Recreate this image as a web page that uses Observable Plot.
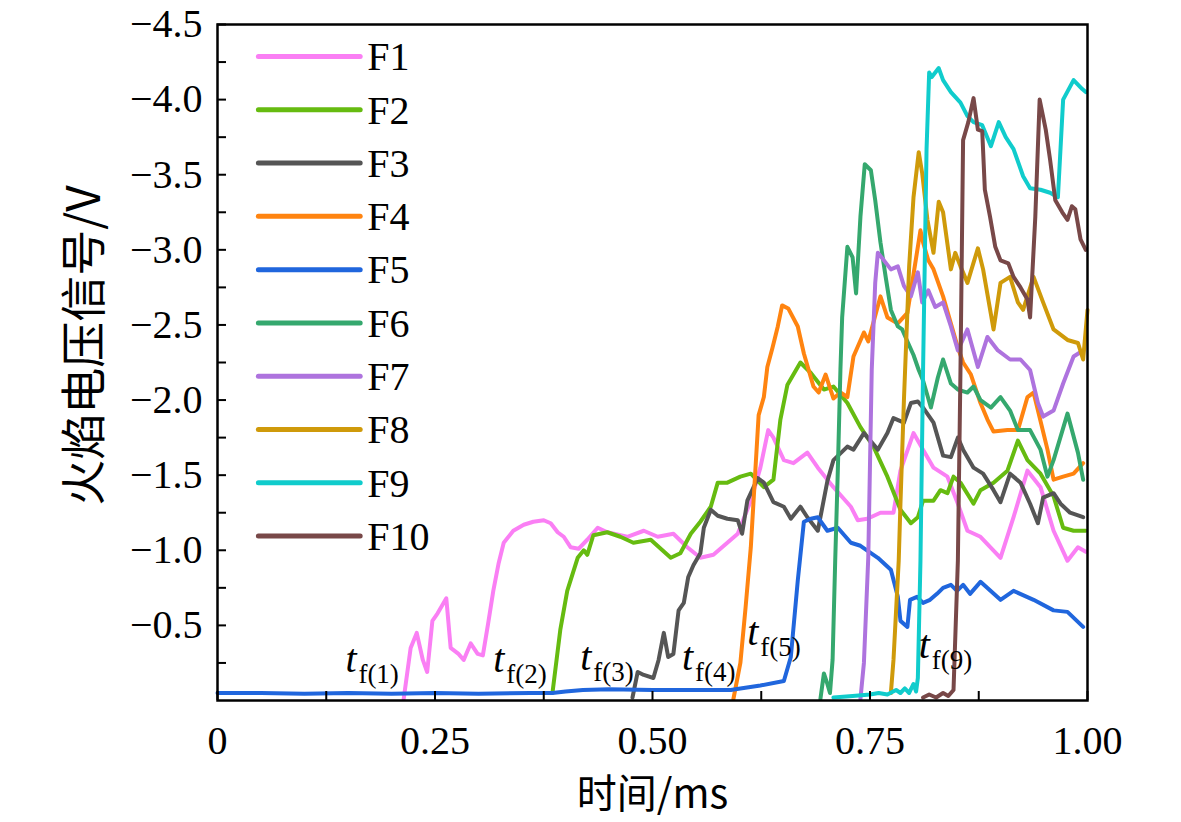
<!DOCTYPE html>
<html>
<head>
<meta charset="utf-8">
<script src="https://cdn.jsdelivr.net/npm/d3@7"></script>
<script src="https://cdn.jsdelivr.net/npm/@observablehq/plot@0.6"></script>
<style>
  html, body { margin: 0; padding: 0; background: #fff; }
  #chart svg { display: block; }
</style>
</head>
<body>
<div id="chart"></div>
<script>
// ---------- data (time in ms, flame voltage in V) ----------
const seriesNames = ["F1","F2","F3","F4","F5","F6","F7","F8","F9","F10"];
const seriesColors = ["#fa7ff4","#66bb10","#555555","#ff8410","#2066dd","#35a86e","#ae73de","#cf9a0a","#10cccc","#784848"];

const F1 = [[0.214,-0.01],[0.222,-0.35],[0.229,-0.45],[0.236,-0.27],[0.241,-0.19],[0.247,-0.53],[0.253,-0.58],[0.263,-0.68],[0.268,-0.35],[0.277,-0.31],[0.283,-0.27],[0.291,-0.38],[0.299,-0.31],[0.305,-0.30],[0.311,-0.51],[0.317,-0.73],[0.323,-0.91],[0.329,-1.05],[0.340,-1.13],[0.352,-1.17],[0.363,-1.19],[0.375,-1.20],[0.383,-1.18],[0.391,-1.12],[0.398,-1.09],[0.406,-1.02],[0.415,-1.01],[0.425,-1.07],[0.437,-1.15],[0.448,-1.12],[0.471,-1.09],[0.490,-1.13],[0.506,-1.09],[0.524,-1.11],[0.540,-1.02],[0.555,-0.95],[0.570,-0.97],[0.586,-1.05],[0.598,-1.11],[0.613,-1.33],[0.624,-1.55],[0.633,-1.80],[0.639,-1.75],[0.651,-1.60],[0.662,-1.58],[0.678,-1.65],[0.690,-1.55],[0.708,-1.42],[0.728,-1.29],[0.736,-1.20],[0.747,-1.21],[0.762,-1.25],[0.777,-1.25],[0.785,-1.53],[0.800,-1.78],[0.811,-1.67],[0.823,-1.55],[0.839,-1.49],[0.851,-1.31],[0.862,-1.13],[0.877,-1.09],[0.900,-0.95],[0.915,-1.22],[0.931,-1.53],[0.946,-1.42],[0.961,-1.13],[0.977,-0.93],[0.989,-1.02],[0.998,-0.99]];

const F2 = [[0.385,-0.05],[0.394,-0.47],[0.402,-0.73],[0.414,-0.95],[0.421,-1.00],[0.425,-0.97],[0.432,-1.10],[0.440,-1.11],[0.448,-1.12],[0.463,-1.09],[0.478,-1.05],[0.498,-1.07],[0.521,-0.95],[0.532,-0.98],[0.544,-1.11],[0.555,-1.19],[0.567,-1.29],[0.575,-1.45],[0.586,-1.45],[0.601,-1.49],[0.613,-1.51],[0.628,-1.42],[0.639,-1.47],[0.647,-1.87],[0.655,-2.10],[0.670,-2.25],[0.682,-2.18],[0.697,-2.07],[0.708,-2.09],[0.724,-1.98],[0.739,-1.82],[0.754,-1.69],[0.770,-1.49],[0.785,-1.27],[0.797,-1.18],[0.805,-1.22],[0.811,-1.33],[0.823,-1.33],[0.831,-1.40],[0.839,-1.38],[0.846,-1.49],[0.854,-1.45],[0.869,-1.31],[0.877,-1.40],[0.892,-1.45],[0.908,-1.53],[0.920,-1.73],[0.931,-1.60],[0.946,-1.51],[0.961,-1.36],[0.972,-1.15],[0.984,-1.13],[0.998,-1.13]];

const F3 = [[0.477,-0.02],[0.483,-0.19],[0.490,-0.17],[0.501,-0.15],[0.507,-0.27],[0.513,-0.45],[0.518,-0.29],[0.524,-0.31],[0.530,-0.60],[0.536,-0.65],[0.541,-0.82],[0.547,-0.90],[0.555,-0.98],[0.559,-1.15],[0.567,-1.27],[0.575,-1.23],[0.586,-1.21],[0.598,-1.20],[0.603,-1.11],[0.609,-1.33],[0.621,-1.48],[0.628,-1.45],[0.639,-1.32],[0.651,-1.29],[0.659,-1.21],[0.670,-1.29],[0.678,-1.22],[0.690,-1.13],[0.701,-1.46],[0.708,-1.60],[0.724,-1.69],[0.731,-1.67],[0.743,-1.78],[0.759,-1.67],[0.770,-1.78],[0.777,-1.88],[0.789,-1.85],[0.797,-1.98],[0.805,-1.99],[0.811,-1.95],[0.823,-1.85],[0.834,-1.63],[0.843,-1.62],[0.851,-1.75],[0.857,-1.67],[0.869,-1.55],[0.880,-1.51],[0.892,-1.40],[0.900,-1.32],[0.911,-1.51],[0.923,-1.45],[0.934,-1.31],[0.943,-1.18],[0.949,-1.35],[0.961,-1.38],[0.969,-1.31],[0.980,-1.25],[0.995,-1.22]];

const F4 = [[0.593,-0.01],[0.601,-0.25],[0.607,-0.62],[0.613,-1.02],[0.618,-1.51],[0.622,-1.90],[0.628,-2.02],[0.632,-2.22],[0.638,-2.35],[0.644,-2.49],[0.649,-2.63],[0.656,-2.61],[0.667,-2.49],[0.674,-2.31],[0.685,-2.09],[0.691,-2.05],[0.699,-2.17],[0.708,-2.01],[0.716,-2.05],[0.724,-2.02],[0.731,-2.29],[0.743,-2.45],[0.748,-2.39],[0.762,-2.69],[0.770,-2.55],[0.782,-2.51],[0.793,-2.58],[0.802,-2.91],[0.808,-3.13],[0.811,-3.05],[0.817,-2.93],[0.823,-2.87],[0.834,-2.69],[0.843,-2.51],[0.851,-2.35],[0.857,-2.25],[0.866,-2.17],[0.877,-1.98],[0.885,-1.87],[0.892,-1.79],[0.908,-1.80],[0.920,-1.80],[0.931,-2.02],[0.938,-2.05],[0.954,-1.67],[0.961,-1.47],[0.972,-1.49],[0.984,-1.51],[0.995,-1.58]];

const F5 = [[0.000,-0.05],[0.050,-0.05],[0.100,-0.045],[0.150,-0.05],[0.200,-0.045],[0.250,-0.05],[0.300,-0.045],[0.360,-0.05],[0.385,-0.05],[0.400,-0.06],[0.420,-0.07],[0.450,-0.075],[0.500,-0.07],[0.550,-0.07],[0.590,-0.07],[0.601,-0.08],[0.624,-0.10],[0.651,-0.13],[0.659,-0.29],[0.667,-0.80],[0.674,-1.19],[0.682,-1.21],[0.690,-1.22],[0.701,-1.13],[0.713,-1.15],[0.728,-1.05],[0.739,-1.03],[0.759,-0.95],[0.774,-0.87],[0.778,-0.78],[0.782,-0.69],[0.785,-0.53],[0.793,-0.49],[0.796,-0.67],[0.804,-0.69],[0.811,-0.65],[0.819,-0.67],[0.827,-0.71],[0.834,-0.75],[0.843,-0.77],[0.850,-0.73],[0.857,-0.77],[0.865,-0.71],[0.877,-0.79],[0.900,-0.67],[0.915,-0.73],[0.938,-0.67],[0.961,-0.60],[0.977,-0.59],[0.995,-0.49]];

const F6 = [[0.693,-0.01],[0.697,-0.18],[0.701,-0.11],[0.704,-0.05],[0.707,-0.27],[0.710,-0.93],[0.713,-1.53],[0.716,-2.20],[0.718,-2.55],[0.724,-3.02],[0.730,-2.95],[0.734,-2.71],[0.739,-3.22],[0.744,-3.57],[0.751,-3.53],[0.756,-3.33],[0.762,-3.05],[0.768,-2.82],[0.774,-2.60],[0.782,-2.49],[0.787,-2.47],[0.793,-2.39],[0.800,-2.30],[0.806,-2.20],[0.811,-2.13],[0.820,-1.95],[0.828,-2.15],[0.834,-2.27],[0.843,-2.11],[0.851,-2.07],[0.862,-2.05],[0.869,-2.09],[0.877,-2.00],[0.889,-1.95],[0.900,-2.02],[0.911,-1.93],[0.920,-1.80],[0.934,-1.80],[0.946,-1.67],[0.954,-1.49],[0.961,-1.60],[0.977,-1.91],[0.989,-1.65],[0.995,-1.47]];

const F7 = [[0.739,-0.01],[0.743,-0.25],[0.748,-0.95],[0.752,-2.20],[0.756,-2.78],[0.759,-2.98],[0.766,-2.93],[0.774,-2.87],[0.782,-2.89],[0.789,-2.76],[0.797,-2.69],[0.805,-2.85],[0.810,-2.65],[0.817,-2.73],[0.825,-2.62],[0.834,-2.65],[0.843,-2.49],[0.851,-2.33],[0.862,-2.47],[0.874,-2.22],[0.885,-2.42],[0.897,-2.33],[0.911,-2.27],[0.923,-2.27],[0.934,-2.20],[0.943,-1.98],[0.949,-1.89],[0.961,-1.93],[0.972,-2.11],[0.984,-2.29],[0.995,-2.33]];

const F8 = [[0.774,-0.05],[0.777,-0.27],[0.783,-0.93],[0.785,-1.31],[0.789,-2.00],[0.795,-2.89],[0.800,-3.35],[0.806,-3.65],[0.810,-3.51],[0.816,-3.20],[0.823,-2.98],[0.829,-3.32],[0.834,-3.25],[0.843,-2.87],[0.848,-2.98],[0.854,-2.89],[0.862,-2.78],[0.874,-3.01],[0.880,-2.87],[0.892,-2.47],[0.900,-2.78],[0.911,-2.82],[0.920,-2.65],[0.926,-2.60],[0.938,-2.82],[0.949,-2.65],[0.961,-2.47],[0.977,-2.40],[0.989,-2.38],[0.995,-2.27],[1.000,-2.60]];

const F9 = [[0.708,-0.02],[0.730,-0.03],[0.750,-0.04],[0.760,-0.05],[0.770,-0.04],[0.780,-0.07],[0.785,-0.05],[0.790,-0.08],[0.795,-0.05],[0.800,-0.11],[0.803,-0.06],[0.805,-0.15],[0.808,-0.93],[0.811,-2.20],[0.815,-3.67],[0.818,-4.18],[0.821,-4.15],[0.829,-4.21],[0.834,-4.13],[0.843,-4.05],[0.854,-3.98],[0.862,-3.89],[0.869,-3.85],[0.879,-3.83],[0.889,-3.69],[0.898,-3.85],[0.906,-3.75],[0.915,-3.67],[0.926,-3.49],[0.934,-3.41],[0.946,-3.40],[0.957,-3.38],[0.966,-3.35],[0.972,-4.00],[0.984,-4.13],[0.994,-4.07],[0.998,-4.05]];

const F10 = [[0.811,-0.02],[0.818,-0.04],[0.826,-0.02],[0.834,-0.05],[0.840,-0.03],[0.846,-0.07],[0.851,-0.93],[0.854,-2.20],[0.857,-3.73],[0.863,-3.85],[0.869,-4.01],[0.874,-3.80],[0.879,-3.79],[0.882,-3.40],[0.888,-3.22],[0.894,-3.02],[0.900,-2.93],[0.909,-2.91],[0.915,-2.82],[0.923,-2.75],[0.931,-2.67],[0.934,-2.55],[0.940,-3.22],[0.945,-4.00],[0.952,-3.80],[0.957,-3.60],[0.963,-3.33],[0.971,-3.25],[0.977,-3.20],[0.982,-3.29],[0.986,-3.27],[0.992,-3.07],[0.998,-3.00]];

const seriesData = [F1, F2, F3, F4, F5, F6, F7, F8, F9, F10];

// axis ticks and labels
const xTickValues = [0, 0.25, 0.5, 0.75, 1.0];
const xTickLabels = ["0", "0.25", "0.50", "0.75", "1.00"];
const xMinorTicks = [0.125, 0.375, 0.625, 0.875];
const yTickValues = [-0.5, -1.0, -1.5, -2.0, -2.5, -3.0, -3.5, -4.0, -4.5];
const yTickLabels = ["\u22120.5", "\u22121.0", "\u22121.5", "\u22122.0", "\u22122.5", "\u22123.0", "\u22123.5", "\u22124.0", "\u22124.5"];
const yMinorTicks = [-0.25, -0.75, -1.25, -1.75, -2.25, -2.75, -3.25, -3.75, -4.25];
const xTitle = "时间/ms";
const yTitle = "火焰电压信号/V";

// flame-arrival annotations t_f(n)
const tfSubs = ["f(1)", "f(2)", "f(3)", "f(4)", "f(5)", "f(9)"];
const tfX = [0.147, 0.317, 0.417, 0.534, 0.609, 0.806];
const tfY = [-0.187, -0.187, -0.200, -0.200, -0.367, -0.280];

// ---------- chart ----------
const serif = "'Liberation Serif', 'Times New Roman', 'Noto Sans CJK SC', serif";
const legendX1 = 0.047, legendX2 = 0.164, legendTextX = 0.172, legendTop = -4.287, legendStep = 0.3547;

const lineMarks = seriesData.map((data, i) =>
  Plot.line(data, {x: d => d[0], y: d => d[1], stroke: seriesColors[i], strokeWidth: 4, strokeLinejoin: "round", strokeLinecap: "round"})
);
const legendMarks = seriesNames.flatMap((name, i) => [
  Plot.link([name], {x1: legendX1, x2: legendX2, y1: legendTop + i * legendStep, y2: legendTop + i * legendStep, stroke: seriesColors[i], strokeWidth: 5, strokeLinecap: "round"}),
  Plot.text([name], {x: legendTextX, y: legendTop + i * legendStep, text: d => d, textAnchor: "start", lineAnchor: "middle", fontSize: 40, fill: "black", dy: 1})
]);
const tfData = tfSubs.map((s, i) => ({sub: s, x: tfX[i], y: tfY[i]}));

const chart = Plot.plot({
  width: 1181,
  height: 822,
  marginLeft: 217,
  marginRight: 94,
  marginTop: 24,
  marginBottom: 122,
  style: {fontFamily: serif, fontSize: "40px", color: "black", background: "white", overflow: "visible"},
  x: {domain: [0, 1]},
  y: {domain: [0, -4.5]},
  marks: [
    ...lineMarks,
    Plot.text(tfData, {x: "x", y: "y", text: () => "t", fontStyle: "italic", fontSize: 40, textAnchor: "start", lineAnchor: "bottom", fill: "black"}),
    Plot.text(tfData, {x: "x", y: "y", text: "sub", fontSize: 27, textAnchor: "start", lineAnchor: "bottom", fill: "black", dx: 13, dy: 11}),
    ...legendMarks,
    Plot.axisX({ticks: xMinorTicks, tickSize: -9, strokeWidth: 2, tickFormat: () => "", label: null}),
    Plot.axisX({ticks: xTickValues, tickSize: -9, strokeWidth: 2, tickPadding: 34, tickFormat: (d) => xTickLabels[xTickValues.indexOf(d)], fontSize: 40, label: null}),
    Plot.axisY({ticks: yMinorTicks, tickSize: -9, strokeWidth: 2, tickFormat: () => "", label: null}),
    Plot.axisY({ticks: yTickValues, tickSize: -9, strokeWidth: 2, tickPadding: 24, tickFormat: (d) => yTickLabels[yTickValues.indexOf(d)], fontSize: 40, label: null}),
    Plot.frame({stroke: "black", strokeWidth: 2.5}),
    Plot.text([xTitle], {frameAnchor: "bottom", textAnchor: "middle", dy: 95, lineAnchor: "middle", fontSize: 40, fill: "black", fontFamily: "'Noto Sans CJK SC', sans-serif"}),
    Plot.text([yTitle], {frameAnchor: "left", textAnchor: "middle", rotate: -90, dx: -132, dy: -17, lineAnchor: "middle", fontSize: 46, fill: "black", fontFamily: "'Noto Sans CJK SC', sans-serif"})
  ]
});
document.getElementById("chart").appendChild(chart);
</script>
</body>
</html>
